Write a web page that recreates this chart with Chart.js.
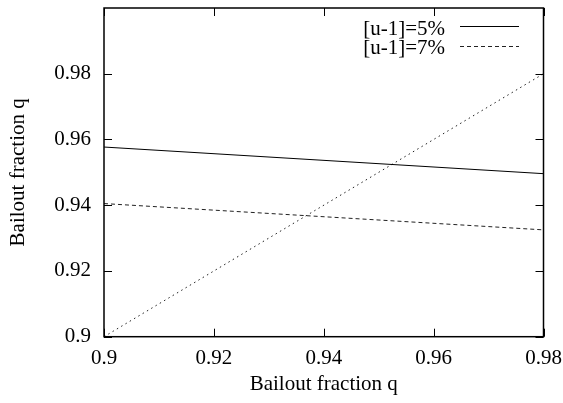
<!DOCTYPE html>
<html>
<head>
<meta charset="utf-8">
<script src="https://cdn.jsdelivr.net/npm/chart.js@4/dist/chart.umd.min.js"></script>
<style>
  html, body { margin: 0; padding: 0; background: #fff; }
  #wrap { width: 563px; height: 403px; }
</style>
</head>
<body>
<div id="wrap"><canvas id="myChart"></canvas></div>
<script>
// values
const xValues = [0.9, 0.98];
const rate5 = [0.9577, 0.9496];
const rate7 = [0.9405, 0.9325];
const diagonal = [0.9, 0.98];
const xTicks = [0.9, 0.92, 0.94, 0.96, 0.98];
const yTicks = [0.9, 0.92, 0.94, 0.96, 0.98];
const seriesNames = ['[u-1]=5%', '[u-1]=7%'];

const font = "'Liberation Serif', 'DejaVu Serif', serif";

function points(xs, ys) {
    return xs.map((x, i) => ({ x: x, y: ys[i] }));
}

// gnuplot style frame, inward ticks and legend with sample on the right
const framePlugin = {
    id: 'frame',
    afterDraw(chart) {
        const ctx = chart.ctx;
        const a = chart.chartArea;
        const xs = chart.scales.x, ys = chart.scales.y;
        ctx.save();
        ctx.strokeStyle = '#000';
        ctx.lineWidth = 1.5;
        ctx.strokeRect(a.left, a.top, a.right - a.left, a.bottom - a.top);
        ctx.lineWidth = 1;
        ctx.beginPath();
        xTicks.forEach(v => {
            const px = Math.round(xs.getPixelForValue(v)) + 0.5;
            ctx.moveTo(px, a.bottom); ctx.lineTo(px, a.bottom - 8);
            ctx.moveTo(px, a.top); ctx.lineTo(px, a.top + 8);
        });
        yTicks.forEach(v => {
            const py = Math.round(ys.getPixelForValue(v)) + 0.5;
            ctx.moveTo(a.left, py); ctx.lineTo(a.left + 8, py);
            ctx.moveTo(a.right, py); ctx.lineTo(a.right - 8, py);
        });
        ctx.stroke();

        // legend
        ctx.font = '21px ' + font;
        ctx.fillStyle = '#000';
        ctx.textAlign = 'right';
        ctx.textBaseline = 'middle';
        for (let i = 0; i < seriesNames.length; i++) {
            const ds = chart.data.datasets[i];
            const y = 29 + i * 19;
            ctx.fillText(seriesNames[i], 445, y);
            ctx.setLineDash(ds.borderDash || []);
            ctx.strokeStyle = ds.borderColor;
            ctx.beginPath();
            ctx.moveTo(460, y - 2.5 + i);
            ctx.lineTo(519, y - 2.5 + i);
            ctx.stroke();
        }
        ctx.restore();
    }
};

function noPad(s) {
    s.paddingTop = 0; s.paddingBottom = 0;
    s.paddingLeft = 0; s.paddingRight = 0;
}

new Chart('myChart', {
    type: 'scatter',
    data: {
        datasets: [
            { data: points(xValues, rate5), borderColor: '#000', borderWidth: 1, showLine: true, pointRadius: 0 },
            { data: points(xValues, rate7), borderColor: '#222', borderWidth: 1, borderDash: [4, 3], showLine: true, pointRadius: 0 },
            { data: points(xValues, diagonal), borderColor: '#222', borderWidth: 1, borderDash: [1.5, 3.5], showLine: true, pointRadius: 0 }
        ]
    },
    options: {
        responsive: true,
        maintainAspectRatio: false,
        animation: false,
        layout: { padding: { left: 0, right: 19.5, top: 8, bottom: 0 } },
        plugins: { legend: { display: false }, tooltip: { enabled: false } },
        scales: {
            x: {
                type: 'linear',
                min: 0.9, max: 0.98,
                afterBuildTicks: s => { s.ticks = xTicks.map(v => ({ value: v })); },
                afterFit: s => { s.height = 66.3; noPad(s); },
                grid: { display: false, drawTicks: false },
                border: { display: false },
                ticks: {
                    color: '#000', padding: 9,
                    font: { family: font, size: 21 },
                    maxRotation: 0,
                    callback: v => String(+v.toFixed(2))
                },
                title: {
                    display: true, text: 'Bailout fraction q', color: '#000',
                    font: { family: font, size: 21 },
                    padding: { top: 4, bottom: 6 }
                }
            },
            y: {
                type: 'linear',
                min: 0.9, max: 1.0,
                afterBuildTicks: s => { s.ticks = yTicks.map(v => ({ value: v })); },
                afterFit: s => { s.width = 104; noPad(s); },
                grid: { display: false, drawTicks: false },
                border: { display: false },
                ticks: {
                    color: '#000', padding: 13,
                    font: { family: font, size: 21 },
                    callback: v => String(+v.toFixed(2))
                },
                title: {
                    display: true, text: 'Bailout fraction q', color: '#000',
                    font: { family: font, size: 21 },
                    padding: { top: 6, bottom: 0 }
                }
            }
        }
    },
    plugins: [framePlugin]
});
</script>
</body>
</html>
